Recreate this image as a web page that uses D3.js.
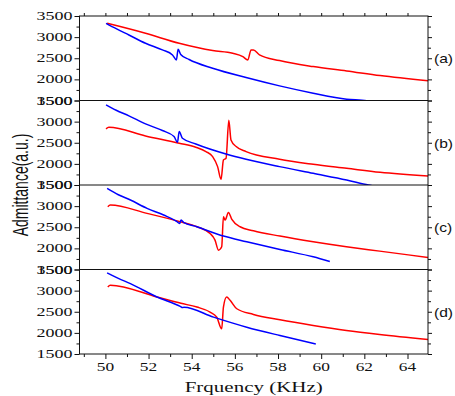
<!DOCTYPE html>
<html><head><meta charset="utf-8">
<script src="https://cdn.jsdelivr.net/npm/d3@7"></script>
<style>body{margin:0;background:#fff;} svg{display:block}</style>
</head><body><svg id="c" width="455" height="396"></svg>
<script>
// ---- data ----
const panelLabels = ["(a)", "(b)", "(c)", "(d)"];
const yTickValues = [1500, 2000, 2500, 3000, 3500];
const yMinorValues = [1750, 2250, 2750, 3250];
const xTickValues = [50, 52, 54, 56, 58, 60, 62, 64];
const xMinorValues = [49, 51, 53, 55, 57, 59, 61, 63];
const xLabel = "Frquency (KHz)";
const yLabel = "Admittance(a.u.)";

const blueA = [[50.03,3327],[50.5,3200],[51.09,3051],[51.86,2854],[52.64,2697],[53.11,2579],[53.29,2461],[53.37,2713],[53.49,2590],[53.88,2470],[54.97,2264],[56.52,2043],[58.07,1846],[59.63,1673],[61.18,1531],[62.11,1492],[62.6,1440]];
const redA  = [[50.08,3327],[51.86,3091],[53.42,2854],[54.97,2681],[55.9,2618],[56.37,2539],[56.6,2461],[56.75,2697],[56.86,2697],[57.14,2579],[58.07,2445],[59.63,2303],[61.18,2201],[62.73,2091],[64.98,1965]];
const blueB = [[50.03,3397],[50.5,3270],[51.09,3136],[51.86,2947],[52.64,2789],[53.18,2646],[53.34,2512],[53.42,2765],[53.57,2607],[54.19,2472],[55.59,2235],[56.52,2109],[58.07,1935],[59.63,1777],[61.18,1619],[62.19,1500],[62.6,1460]];
const redB  = [[50.03,2828],[50.16,2868],[51.86,2662],[53.42,2488],[54.19,2393],[54.66,2291],[54.97,2172],[55.2,1935],[55.36,1634],[55.47,2093],[55.59,2132],[55.72,3030],[55.82,2567],[56.06,2409],[56.52,2291],[58.07,2109],[59.63,1990],[61.18,1895],[62.73,1800],[64.98,1713]];
const blueC = [[50.08,3421],[50.6,3270],[51.16,3144],[51.93,2947],[52.7,2789],[53.3,2640],[53.44,2591],[53.51,2670],[53.62,2615],[54.24,2512],[55.47,2291],[56.55,2156],[58.09,1974],[59.63,1800],[60.4,1690]];
const redC  = [[50.11,2986],[50.23,3026],[51.93,2828],[53.47,2630],[54.24,2512],[54.85,2354],[55.08,2196],[55.24,1958],[55.39,2038],[55.47,2749],[55.55,2670],[55.7,2852],[55.86,2686],[56.24,2512],[56.86,2417],[58.09,2291],[59.63,2156],[61.17,2038],[62.71,1935],[64.95,1785]];
const blueD = [[50.08,3421],[50.6,3290],[51.16,3167],[52.39,2849],[53.47,2627],[53.58,2598],[53.64,2608],[55.01,2373],[56.55,2135],[58.09,1937],[59.75,1738]];
const redD  = [[50.11,3087],[50.23,3127],[52.39,2849],[53.5,2700],[54.24,2611],[54.85,2492],[55.16,2373],[55.39,2095],[55.47,2611],[55.62,2849],[55.78,2770],[56.09,2571],[56.86,2437],[58.09,2310],[59.63,2175],[61.17,2056],[62.71,1960],[64.95,1841]];

const panels = [
  {blue: blueA, red: redA},
  {blue: blueB, red: redB},
  {blue: blueC, red: redC},
  {blue: blueD, red: redD}
];

// ---- layout ----
const L = 79.5, R = 428, T = 16, PH = 84.5, NP = 4;
const B = T + PH * NP;
const svg = d3.select("#c");
const x = d3.scaleLinear().domain([48.8, 64.95]).range([L, R]);
const axisColor = "#111";
const serif = "'Liberation Serif','Times New Roman',serif";
const sans = "'Liberation Sans',Arial,sans-serif";

function styleAxis(g) {
  g.select(".domain").remove();
  g.selectAll("line").attr("stroke", axisColor).attr("stroke-width", 1);
}

const defs = svg.append("defs");

panels.forEach((p, i) => {
  const top = T + i * PH, bot = top + PH;
  const y = d3.scaleLinear().domain([1500, 3500]).range([bot, top]);

  defs.append("clipPath").attr("id", "clip" + i)
    .append("rect").attr("x", L).attr("y", top).attr("width", R - L).attr("height", PH);

  svg.append("g").attr("transform", `translate(${L},0)`)
    .call(d3.axisLeft(y).tickValues(yTickValues).tickSize(5).tickFormat("")).call(styleAxis);
  svg.append("g").attr("transform", `translate(${L},0)`)
    .call(d3.axisLeft(y).tickValues(yMinorValues).tickSize(3).tickFormat("")).call(styleAxis);
  svg.append("g").attr("transform", `translate(${R},0)`)
    .call(d3.axisRight(y).tickValues(yTickValues).tickSize(4).tickFormat("")).call(styleAxis);
  svg.append("g").attr("transform", `translate(${R},0)`)
    .call(d3.axisRight(y).tickValues(yMinorValues).tickSize(3).tickFormat("")).call(styleAxis);

  svg.append("g").selectAll("text").data(yTickValues).join("text")
    .attr("transform", d => `translate(${L - 7},${y(d) + 4}) scale(1.5,1)`)
    .attr("text-anchor", "end")
    .attr("font-family", serif).attr("font-size", 12).attr("fill", "#111")
    .text(d => d);

  const line = d3.line().curve(d3.curveMonotoneX).x(d => x(d[0])).y(d => y(d[1]));
  const g = svg.append("g").attr("clip-path", `url(#clip${i})`);
  g.append("path").datum(p.red).attr("d", line)
    .attr("fill", "none").attr("stroke", "#ff0000").attr("stroke-width", 1.5).attr("stroke-linejoin", "round");
  g.append("path").datum(p.blue).attr("d", line)
    .attr("fill", "none").attr("stroke", "#0000ff").attr("stroke-width", 1.5).attr("stroke-linejoin", "round");

  svg.append("text")
    .attr("transform", `translate(434,${(top + bot) / 2 + 5}) scale(1.3,1)`)
    .attr("font-family", sans).attr("font-size", 12).attr("fill", "#111")
    .text(panelLabels[i]);

  if (i > 0) {
    svg.append("line").attr("x1", L).attr("x2", R).attr("y1", top).attr("y2", top)
      .attr("stroke", axisColor).attr("stroke-width", 1);
  }
});

svg.append("rect").attr("x", L).attr("y", T).attr("width", R - L).attr("height", B - T)
  .attr("fill", "none").attr("stroke", axisColor).attr("stroke-width", 1);

svg.append("g").attr("transform", `translate(0,${B})`)
  .call(d3.axisBottom(x).tickValues(xTickValues).tickSize(5).tickFormat("")).call(styleAxis);
svg.append("g").attr("transform", `translate(0,${B})`)
  .call(d3.axisBottom(x).tickValues(xMinorValues).tickSize(3).tickFormat("")).call(styleAxis);
svg.append("g").attr("transform", `translate(0,${T})`)
  .call(d3.axisTop(x).tickValues(xTickValues.concat(xMinorValues)).tickSize(3).tickFormat("")).call(styleAxis);

svg.append("g").selectAll("text").data(xTickValues).join("text")
  .attr("transform", d => `translate(${x(d)},${B + 17}) scale(1.45,1)`)
  .attr("text-anchor", "middle")
  .attr("font-family", serif).attr("font-size", 12).attr("fill", "#111")
  .text(d => d);

svg.append("text")
  .attr("transform", `translate(${(L + R) / 2},${392}) scale(1.4,1)`)
  .attr("text-anchor", "middle")
  .attr("font-family", serif).attr("font-size", 15).attr("fill", "#111")
  .text(xLabel);

svg.append("text")
  .attr("transform", `translate(28,${(T + B) / 2}) scale(1.55,1) rotate(-90)`)
  .attr("text-anchor", "middle")
  .attr("font-family", sans).attr("font-size", 14).attr("fill", "#111")
  .text(yLabel);
</script>
</body></html>
